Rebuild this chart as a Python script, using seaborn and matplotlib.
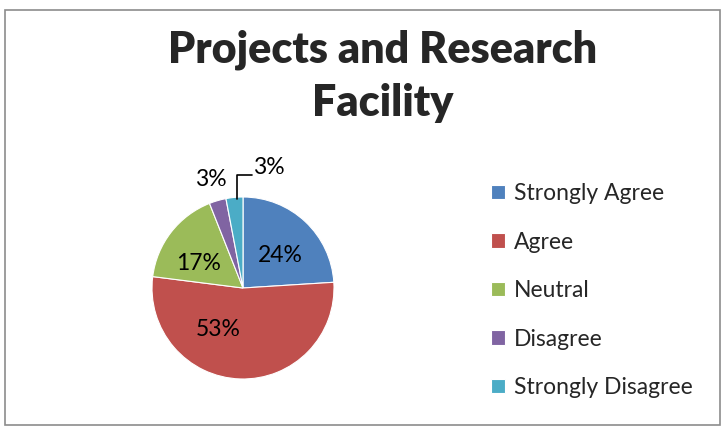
import matplotlib
matplotlib.use("Agg")
import matplotlib.pyplot as plt
from matplotlib.patches import Rectangle
import seaborn as sns

# data
categories = ['Strongly Agree', 'Agree', 'Neutral', 'Disagree', 'Strongly Disagree']
values = [24, 53, 17, 3, 3]
colors = ['#4F81BD', '#C0504D', '#9BBB59', '#8064A2', '#4BACC6']
title = 'Projects and Research\nFacility'

# where Excel put the labels (in pie radius units)
label_pos = [(0.41, 0.36), (-0.27, -0.46), (-0.49, 0.27), (-0.35, 1.19), (0.28, 1.32)]

sns.set_theme(style='white')
plt.rcParams['font.family'] = ['Lato', 'DejaVu Sans']

fig = plt.figure(figsize=(7.22, 4.26), dpi=100)
W, H = 722, 426

# chart border
fig.patches.append(Rectangle((5 / W, 1 / H), 715 / W, 415 / H, transform=fig.transFigure,
                             fill=False, edgecolor='#8c8c8c', linewidth=1.2))

cx, cy, r = 243, 288, 91
ax = fig.add_axes([(cx - r) / W, (H - cy - r) / H, 2 * r / W, 2 * r / H])
wedges, texts, autotexts = ax.pie(values, colors=colors, startangle=90, counterclock=False,
                                  radius=1, autopct='%1.0f%%', pctdistance=0.6,
                                  wedgeprops=dict(linewidth=0.8, edgecolor='white'),
                                  textprops=dict(fontsize=16.5, color='black'))
ax.set_xlim(-1, 1)
ax.set_ylim(-1, 1)
ax.set_aspect('equal')
ax.axis('off')

for t, (x, y) in zip(autotexts, label_pos):
    t.set_position((x, y))
    t.set_ha('center')
    t.set_va('center')

# leader line for the last slice
ax.plot([-0.07, -0.07, 0.1], [0.98, 1.24, 1.24], color='black', lw=1.2, clip_on=False)

fig.text(0.5 * (163 + 602) / W, 1 - 76 / H, title, ha='center', va='center',
         fontsize=31, fontweight='heavy', linespacing=1.4)

fig.legend(wedges, categories, loc='upper left', bbox_to_anchor=(482 / W, 1 - 174 / H),
           frameon=False, fontsize=16.5, handlelength=0.6, handleheight=0.6,
           handletextpad=0.4, labelspacing=1.2, borderaxespad=0)

fig.savefig('out.png', dpi=100)
